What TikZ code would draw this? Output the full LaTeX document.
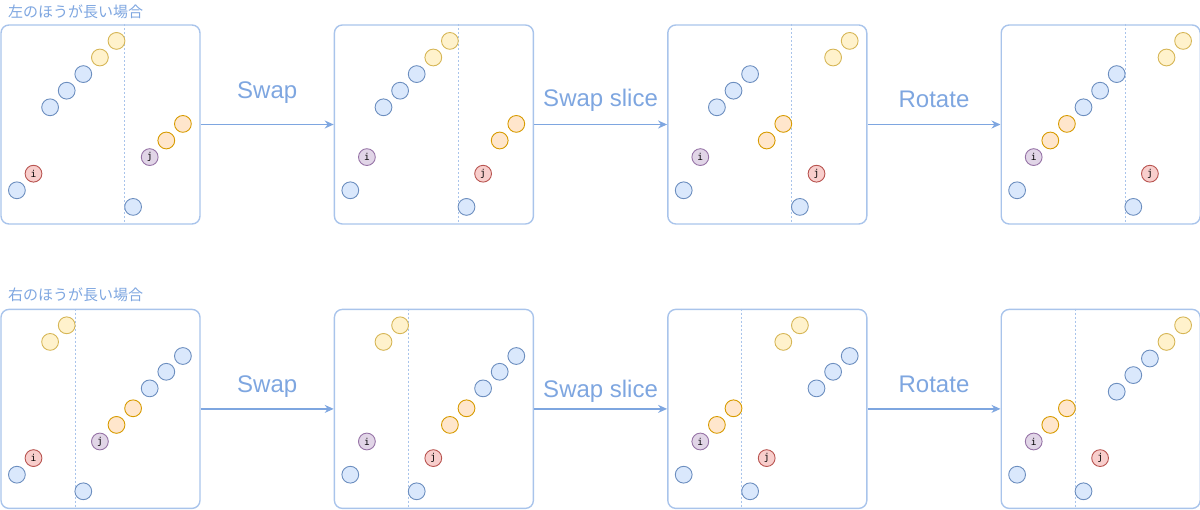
\documentclass[tikz,border=0pt]{standalone}
\usepackage{fontspec}
\setmainfont{Liberation Sans}
\newfontfamily\jpfont{Noto Sans CJK JP}
\newfontfamily\ijfont{DejaVu Sans Mono}
\usepackage{xcolor}
\definecolor{ArrowBlue}{HTML}{7EA6E0}
\definecolor{PanelBlue}{HTML}{A9C4EB}
\definecolor{BFill}{HTML}{DAE8FC}
\definecolor{BLine}{HTML}{6C8EBF}
\definecolor{YFill}{HTML}{FFF2CC}
\definecolor{YLine}{HTML}{D6B656}
\definecolor{OFill}{HTML}{FFE6CC}
\definecolor{OLine}{HTML}{D79B00}
\definecolor{RFill}{HTML}{F8CECC}
\definecolor{RLine}{HTML}{B85450}
\definecolor{PFill}{HTML}{E1D5E7}
\definecolor{PLine}{HTML}{9673A6}
\usetikzlibrary{arrows.meta, positioning}
\newcommand{\gridstep}{16.6}
\tikzset{
  % Panel frame
  panel/.style={
    rectangle, rounded corners=8pt,
    draw=PanelBlue, line width=1.4pt,
    minimum width=199pt, minimum height=199pt,
    inner sep=0pt
  },
  % Element circle, #1 = B, Y, O, R or P
  dot/.style={
    circle, draw=#1Line, fill=#1Fill, line width=0.9pt,
    minimum size=16.8pt, inner sep=0pt,
    font=\ijfont\fontsize{9.5}{10}\selectfont
  },
  % Split line inside a panel
  divider/.style={PanelBlue, line width=1pt, dash pattern=on 2pt off 2pt},
  % Arrows
  arr/.style={-{Stealth[length=9pt,width=8pt]}, line width=1.4pt, ArrowBlue},
  % Labels
  elabel/.style={font=\fontsize{24}{28}\selectfont, text=ArrowBlue, inner sep=0pt, anchor=base},
  caption/.style={font=\jpfont\fontsize{15}{18}\selectfont, text=ArrowBlue, inner sep=0pt, anchor=west},
}

\begin{document}
\begin{tikzpicture}[x=1pt, y=-1pt]
  \useasboundingbox (0,0) rectangle (1200,510);

  %% Captions
  \node[caption] (capA) at (8,12) {左のほうが長い場合};
  \node[caption] (capB) at (8,295) {右のほうが長い場合};

  %% Panels
  \node[panel] (a1) at (100.5,124.5) {};
  \node[panel, right=133pt of a1] (a2) {};
  \node[panel, right=133pt of a2] (a3) {};
  \node[panel, right=133pt of a3] (a4) {};
  \node[panel, below=84pt of a1] (b1) {};
  \node[panel, right=133pt of b1] (b2) {};
  \node[panel, right=133pt of b2] (b3) {};
  \node[panel, right=133pt of b3] (b4) {};

  %% Left part is longer
  \begin{scope}[shift={(a1.north west)}]
    \draw[divider] (7.5*\gridstep,0) -- (7.5*\gridstep,199);
    \foreach \s/\k/\m in {B/1/10, B/3/5, B/4/4, B/5/3, Y/6/2, Y/7/1, B/8/11, O/10/7, O/11/6}
      \node[dot=\s] (a1c\k) at (\k*\gridstep,\m*\gridstep) {};
    \node[dot=R] (a1i) at (2*\gridstep,9*\gridstep) {i};
    \node[dot=P] (a1j) at (9*\gridstep,8*\gridstep) {j};
  \end{scope}
  \begin{scope}[shift={(a2.north west)}]
    \draw[divider] (7.5*\gridstep,0) -- (7.5*\gridstep,199);
    \foreach \s/\k/\m in {B/1/10, B/3/5, B/4/4, B/5/3, Y/6/2, Y/7/1, B/8/11, O/10/7, O/11/6}
      \node[dot=\s] (a2c\k) at (\k*\gridstep,\m*\gridstep) {};
    \node[dot=P] (a2i) at (2*\gridstep,8*\gridstep) {i};
    \node[dot=R] (a2j) at (9*\gridstep,9*\gridstep) {j};
  \end{scope}
  \begin{scope}[shift={(a3.north west)}]
    \draw[divider] (7.5*\gridstep,0) -- (7.5*\gridstep,199);
    \foreach \s/\k/\m in {B/1/10, B/3/5, B/4/4, B/5/3, O/6/7, O/7/6, B/8/11, Y/10/2, Y/11/1}
      \node[dot=\s] (a3c\k) at (\k*\gridstep,\m*\gridstep) {};
    \node[dot=P] (a3i) at (2*\gridstep,8*\gridstep) {i};
    \node[dot=R] (a3j) at (9*\gridstep,9*\gridstep) {j};
  \end{scope}
  \begin{scope}[shift={(a4.north west)}]
    \draw[divider] (7.5*\gridstep,0) -- (7.5*\gridstep,199);
    \foreach \s/\k/\m in {B/1/10, O/3/7, O/4/6, B/5/5, B/6/4, B/7/3, B/8/11, Y/10/2, Y/11/1}
      \node[dot=\s] (a4c\k) at (\k*\gridstep,\m*\gridstep) {};
    \node[dot=P] (a4i) at (2*\gridstep,8*\gridstep) {i};
    \node[dot=R] (a4j) at (9*\gridstep,9*\gridstep) {j};
  \end{scope}

  %% Right part is longer
  \begin{scope}[shift={(b1.north west)}]
    \draw[divider] (4.5*\gridstep,0) -- (4.5*\gridstep,199);
    \foreach \s/\k/\m in {B/1/10, Y/3/2, Y/4/1, B/5/11, O/7/7, O/8/6, B/9/4.8, B/10/3.8, B/11/2.85}
      \node[dot=\s] (b1c\k) at (\k*\gridstep,\m*\gridstep) {};
    \node[dot=R] (b1i) at (2*\gridstep,9*\gridstep) {i};
    \node[dot=P] (b1j) at (6*\gridstep,8*\gridstep) {j};
  \end{scope}
  \begin{scope}[shift={(b2.north west)}]
    \draw[divider] (4.5*\gridstep,0) -- (4.5*\gridstep,199);
    \foreach \s/\k/\m in {B/1/10, Y/3/2, Y/4/1, B/5/11, O/7/7, O/8/6, B/9/4.8, B/10/3.8, B/11/2.85}
      \node[dot=\s] (b2c\k) at (\k*\gridstep,\m*\gridstep) {};
    \node[dot=P] (b2i) at (2*\gridstep,8*\gridstep) {i};
    \node[dot=R] (b2j) at (6*\gridstep,9*\gridstep) {j};
  \end{scope}
  \begin{scope}[shift={(b3.north west)}]
    \draw[divider] (4.5*\gridstep,0) -- (4.5*\gridstep,199);
    \foreach \s/\k/\m in {B/1/10, O/3/7, O/4/6, B/5/11, Y/7/2, Y/8/1, B/9/4.8, B/10/3.8, B/11/2.85}
      \node[dot=\s] (b3c\k) at (\k*\gridstep,\m*\gridstep) {};
    \node[dot=P] (b3i) at (2*\gridstep,8*\gridstep) {i};
    \node[dot=R] (b3j) at (6*\gridstep,9*\gridstep) {j};
  \end{scope}
  \begin{scope}[shift={(b4.north west)}]
    \draw[divider] (4.5*\gridstep,0) -- (4.5*\gridstep,199);
    \foreach \s/\k/\m in {B/1/10, O/3/7, O/4/6, B/5/11, B/7/5, B/8/4, B/9/3, Y/10/2, Y/11/1}
      \node[dot=\s] (b4c\k) at (\k*\gridstep,\m*\gridstep) {};
    \node[dot=P] (b4i) at (2*\gridstep,8*\gridstep) {i};
    \node[dot=R] (b4j) at (6*\gridstep,9*\gridstep) {j};
  \end{scope}

  %% Steps
  \draw[arr] (a1) -- node[elabel, yshift=25.5pt] (la1) {Swap} (a2);
  \draw[arr] (a2) -- node[elabel, yshift=17.5pt] (la2) {Swap slice} (a3);
  \draw[arr] (a3) -- node[elabel, yshift=16.5pt] (la3) {Rotate} (a4);
  \draw[arr] (b1) -- node[elabel, yshift=16pt] (lb1) {Swap} (b2);
  \draw[arr] (b2) -- node[elabel, yshift=11.5pt] (lb2) {Swap slice} (b3);
  \draw[arr] (b3) -- node[elabel, yshift=16.5pt] (lb3) {Rotate} (b4);

\end{tikzpicture}
\end{document}
